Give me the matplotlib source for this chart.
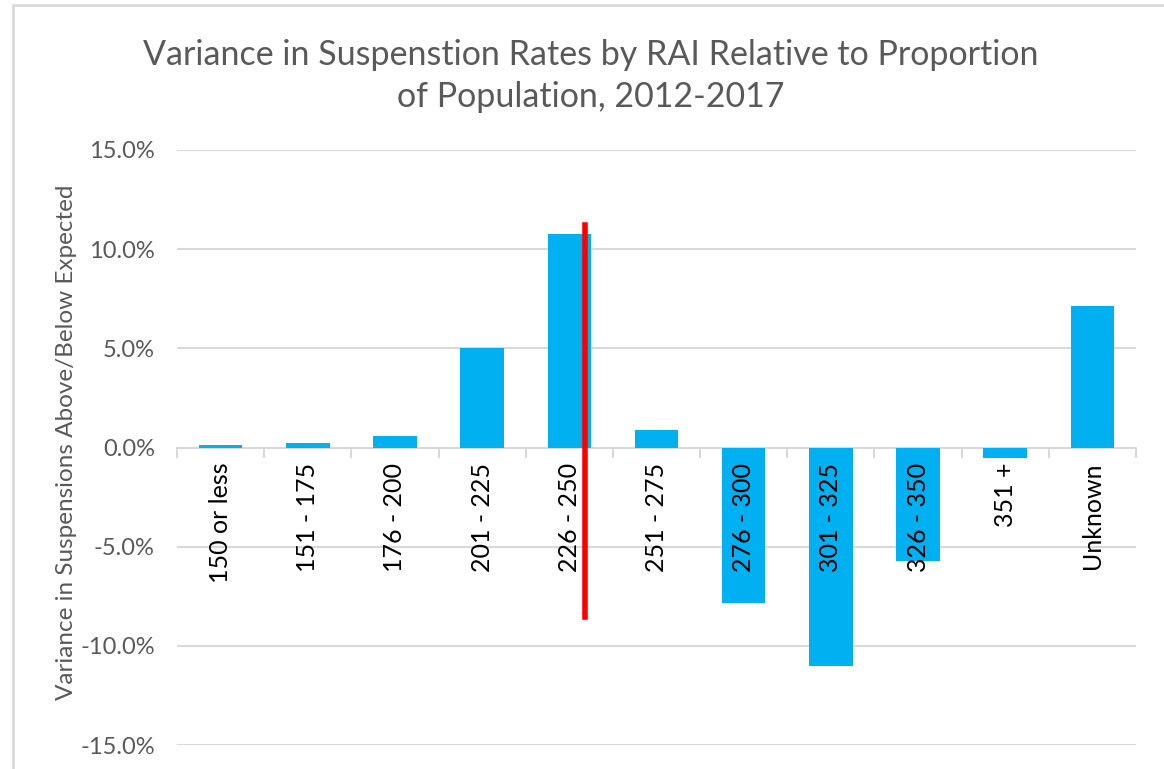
import numpy as np
import matplotlib
matplotlib.use("Agg")
import matplotlib.pyplot as plt
from matplotlib.patches import Rectangle
from matplotlib.ticker import FuncFormatter

# RAI score groups and variance (percentage points)
categories = ['150 or less', '151 - 175', '176 - 200', '201 - 225', '226 - 250',
              '251 - 275', '276 - 300', '301 - 325', '326 - 350', '351 +', 'Unknown']
variance = [0.13, 0.25, 0.58, 5.03, 10.78, 0.88, -7.84, -11.02, -5.72, -0.55, 7.15]

# red marker line (category position, top, bottom)
marker_x = 4.18
marker_top = 11.24
marker_bottom = -8.55

yticks = [-15, -10, -5, 0, 5, 10, 15]

plt.rcParams['font.family'] = ['Lato', 'DejaVu Sans']

BAR = '#00B0F0'
GRID = '#d9d9d9'
TXT = '#595959'

fig = plt.figure(figsize=(11.64, 7.69), dpi=100)
# chart frame border (left + top visible)
fig.patches.append(Rectangle((13/1164, -0.1), 1.2, 1 - 5/769 + 0.1, transform=fig.transFigure,
                             fill=False, edgecolor=GRID, linewidth=2))

ax = fig.add_axes([177/1164, 1 - 745/769, (1136 - 177)/1164, (745 - 150)/769])
x = np.arange(len(categories))
ax.bar(x, variance, width=0.5, color=BAR, zorder=2)
ax.plot([marker_x, marker_x], [marker_top, marker_bottom], color='#ff0000', linewidth=4, zorder=6)

ax.set_xlim(-0.5, len(categories) - 0.5)
ax.set_ylim(-15, 15)
ax.set_yticks(yticks)
ax.yaxis.set_major_formatter(FuncFormatter(lambda v, p: '%.1f%%' % v))
ax.grid(axis='y', color=GRID, linewidth=1.5, zorder=0)
ax.set_axisbelow(True)

for s in ['top', 'right', 'left']:
    ax.spines[s].set_visible(False)
ax.spines['bottom'].set_position(('data', 0))
ax.spines['bottom'].set_color(GRID)
ax.spines['bottom'].set_linewidth(1.5)
ax.spines['bottom'].set_zorder(1)

# category labels drawn as text so they sit on top of the bars
ax.set_xticks(x)
ax.set_xticklabels([])
ax.tick_params(axis='x', which='major', length=0)
for i, lab in enumerate(categories):
    ax.annotate(lab, (i, 0), xytext=(0, -11), textcoords='offset points', rotation=90,
                ha='center', va='top', fontsize=18, color='black', zorder=5)
ax.set_xticks(np.arange(-0.5, len(categories), 1), minor=True)
ax.tick_params(axis='x', which='minor', length=7, width=1.5, color=GRID)
ax.tick_params(axis='y', length=0, pad=16, labelsize=17, labelcolor=TXT)

fig.text(67/1164, 1 - 442/769, 'Variance in Suspensions Above/Below Expected', rotation=90,
         ha='center', va='center', fontsize=17.5, color=TXT)
fig.text(591/1164, 1 - 76/769, 'Variance in Suspenstion Rates by RAI Relative to Proportion\nof Population, 2012-2017',
         ha='center', va='center', fontsize=24.5, color=TXT, linespacing=1.38)

fig.savefig('out.png', dpi=100)
